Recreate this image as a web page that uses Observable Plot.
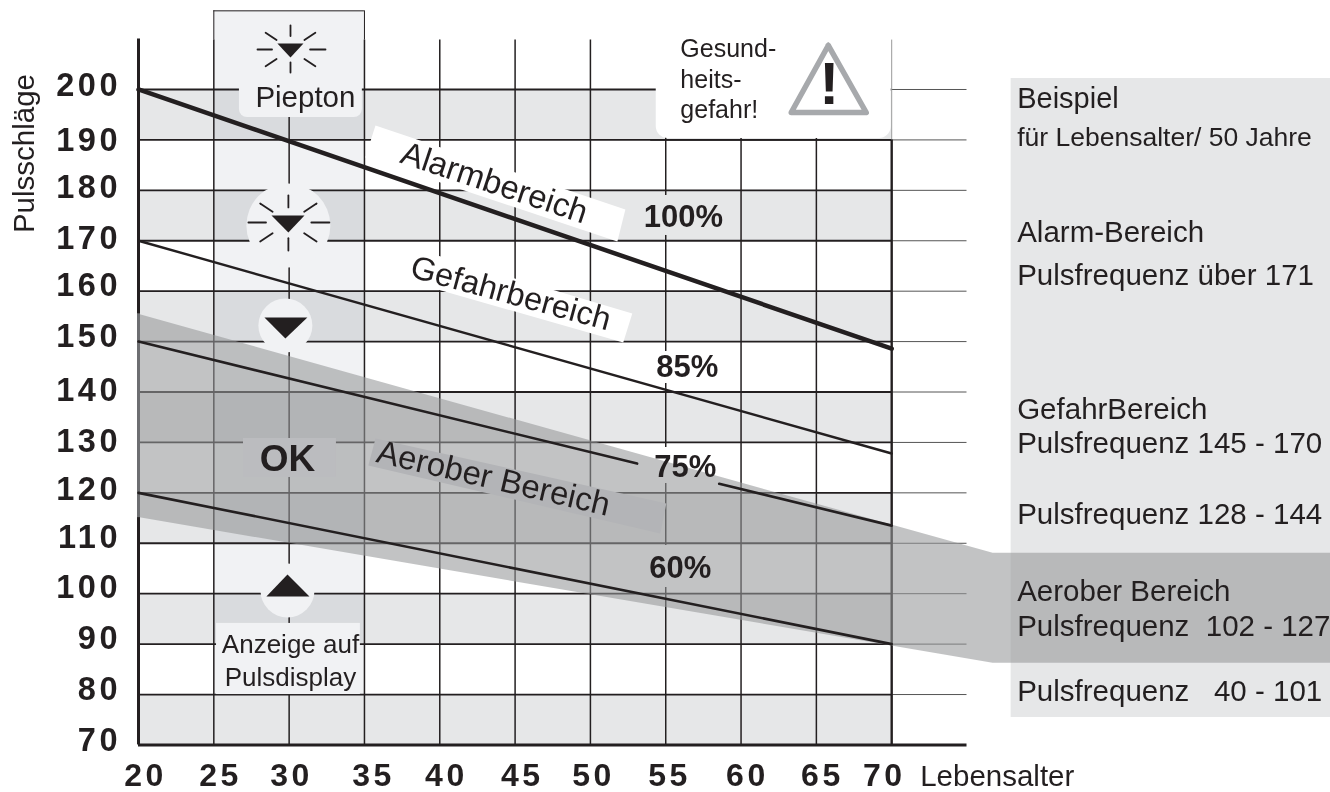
<!DOCTYPE html>
<html><head><meta charset="utf-8">
<script src="https://cdn.jsdelivr.net/npm/d3@7"></script>
<script src="https://cdn.jsdelivr.net/npm/@observablehq/plot@0.6"></script>
<style>html,body{margin:0;padding:0;background:#fff}svg{display:block;background:#fff}</style>
</head><body><div id="chart"></div>
<script>
const INK = "#231f20", FONT = "Liberation Sans";
// axes
const xTicks = [20,25,30,35,40,45,50,55,60,65,70];
const xLabelAge = [20.47,25.44,30.16,35.6,40.44,45.48,50.2,55.25,60.42,65.4,69.51];
const yTicks = [200,190,180,170,160,150,140,130,120,110,100,90,80,70];
const yLabelPulse = [200.69,189.89,180.46,170.45,161.03,150.91,140.3,130.19,120.67,111.15,101.23,91.11,80.99,70.89];
const bandFloors = [190,170,150,130,110,90,70];
// heart-rate lines (age, pulse)
const lineAges = [20,70];
const pulse100 = [200,148.6];
const pulse85 = [170,127.8];
const pulse60 = [120,90];
const pulse75a = [[20,150],[53.1,125.8]];
const pulse75b = [[58.55,121.8],[70,113.5]];
// aerobic wedge
const wedgeAges = [20,76.73,99.13];
const wedgeTop = [155.4,108,108];
const wedgeBottom = [115.1,86.2,86.2];
// 55-line runs, leaving room for the percent labels
const run55 = [[209.8,178.98],[171.05,148.04],[141.69,129],[121.86,109.56],[101.23,70]];
// boxes: age1, age2, pulse1, pulse2
const displayColumn = [[25,35,80,215.6]];
const sidePanel = [[77.93,99.13,75.45,202.18]];
const piepBox = [[26.7,34.86,194.45,215]];
const anzeigeBox = [[25.18,34.73,80,94.1]];
const warnBox = [[54.37,69.97,190.28,214]];
const okBox = [[26.97,33.14,123.05,130.78]];
// discs behind the display icons (age, pulse)
const bigDisc = [[29.95,173.03]];
const smallDiscs = [[29.75,153.19],[29.89,100.64]];
// slanted label strips
const alarmStrip = [[35.73,192.86],[52.32,176.2],[51.79,169.85],[35.06,186.51]];
const gefahrStrip = [[37.39,169.26],[52.78,155.57],[52.18,149.82],[36.85,162.91]];
const aerobStrip = [[35.73,130.78],[55.04,117.89],[54.64,111.94],[35.26,125.43]];
// icons
const iconTriangles = [
  [[29.22,209.12],[30.95,209.12],[30.09,206.34]],
  [[28.83,175.01],[31.02,175.01],[29.95,171.64]],
  [[28.36,154.78],[31.21,154.78],[29.75,150.62]],
  [[28.49,99.45],[31.35,99.45],[29.89,103.81]]
];
const warnTriangle = [[65.79,208.73],[68.31,195.44],[63.33,195.44],[65.79,208.73]];
const rayAngles = [0,56,90,124,180,236,270,304];
const rays1 = [24,30,35,30,23,30,33,30];
const rays2 = [27,34,41,34,28,34,40,34];
const rayCentre1 = [30.09,207.93], rayCentre2 = [29.95,173.62];
// texts: label, age, pulse, size
const panelTexts = [
  ["Beispiel",78.33,198.2,29],
  ["für Lebensalter/ 50 Jahre",78.33,190.5,26.5],
  ["Alarm-Bereich",78.33,171.6,29.5],
  ["Pulsfrequenz über 171",78.33,163.1,29.5],
  ["GefahrBereich",78.33,136.5,29.5],
  ["Pulsfrequenz 145 - 170",78.33,129.8,29.5],
  ["Pulsfrequenz 128 - 144",78.33,115.7,29.5],
  ["Aerober Bereich",78.33,100.4,29.5],
  ["Pulsfrequenz  102 - 127",78.33,93.5,29.5],
  ["Pulsfrequenz   40 - 101",78.33,80.6,29.5]
];
const percentTexts = [["100%",56.17,174.6],["85%",56.43,144.86],["75%",56.3,125.03],["60%",55.97,105]];
const warnTexts = [["Gesund-",55.97,208.13],["heits-",55.97,201.98],["gefahr!",55.97,196.03]];
const anzeigeTexts = [["Anzeige auf",30.09,89.93],["Pulsdisplay",30.09,83.39]];

const box = (rows, o) => Plot.rect(rows, {x1:d=>d[0], x2:d=>d[1], y1:d=>d[2], y2:d=>d[3], ...o});
const poly = (pts, o) => Plot.line(pts, {x:d=>d[0], y:d=>d[1], ...o});
const spaced = px => (index, scales, values, dims, ctx, next) => {
  const g = next(index, scales, values, dims, ctx);
  g.style.whiteSpace = "pre";
  g.querySelectorAll("text").forEach(t => { t.style.letterSpacing = px + "px"; });
  return g;
};
const label = (rows, o) => Plot.text(rows, {text:d=>d[0], x:d=>d[1], y:d=>d[2], fill:INK, fontFamily:FONT, ...o});
const rayShape = {draw(c,l){c.moveTo(0,-l*0.56); c.lineTo(0,-l);}};
const raysAt = (centre, lens) => Plot.vector(rayAngles, {x:()=>centre[0], y:()=>centre[1], rotate:d=>d,
  length:(d,i)=>lens[i], anchor:"start", shape:rayShape, stroke:INK, strokeWidth:1.8});

const chart = Plot.plot({
  width:1330, height:792, margin:0,
  x:{domain:[20,99.13], range:[138,1330], axis:null},
  y:{domain:[60.57,217.65], range:[792,0], axis:null},
  length:{type:"identity"},
  marks:[
    Plot.rect(bandFloors, {x1:()=>20, x2:()=>70, y1:d=>d, y2:d=>d+10, fill:"#e6e7e8"}),
    box(sidePanel, {fill:"#e6e7e8"}),
    box(displayColumn, {fill:"#f1f2f4", mixBlendMode:"multiply"}),
    // grid
    Plot.ruleY(yTicks, {x1:()=>20, x2:()=>70, stroke:INK, strokeWidth:1.8}),
    Plot.ruleY(yTicks.filter(d=>d>70), {x1:()=>70, x2:()=>75, stroke:"#555", strokeWidth:1}),
    Plot.ruleX([25,30,35,40,45,50,60,65], {y1:()=>209.8, y2:()=>70, stroke:INK, strokeWidth:1.5}),
    Plot.ruleX(run55, {x:()=>55, y1:d=>d[0], y2:d=>d[1], stroke:INK, strokeWidth:1.5}),
    Plot.ruleX([70], {y1:()=>209.8, y2:()=>190, stroke:"#999", strokeWidth:1}),
    // display column outline
    Plot.ruleX([25,35], {y1:()=>209.8, y2:()=>215.6, stroke:INK, strokeWidth:1}),
    Plot.ruleY([215.6], {x1:()=>25, x2:()=>35, stroke:INK, strokeWidth:1}),
    // patches
    box(warnBox, {fill:"white", rx:12}),
    Plot.ruleX([70], {y1:()=>190, y2:()=>70, stroke:INK, strokeWidth:2.4}),
    Plot.ruleY([190], {x1:()=>54, x2:()=>70, stroke:INK, strokeWidth:1.8}),
    box(piepBox, {fill:"#f1f2f4", rx:8}),
    box(anzeigeBox, {fill:"#f1f2f4"}),
    Plot.dot(bigDisc, {x:d=>d[0], y:d=>d[1], r:42, fill:"#f1f2f4"}),
    Plot.dot(smallDiscs, {x:d=>d[0], y:d=>d[1], r:27, fill:"#f1f2f4"}),
    poly(alarmStrip, {fill:"white", stroke:"none"}),
    poly(gefahrStrip, {fill:"white", stroke:"none"}),
    // aerobic wedge
    Plot.areaY(wedgeAges.map((a,i)=>[a,wedgeBottom[i],wedgeTop[i]]), {x:d=>d[0], y1:d=>d[1], y2:d=>d[2], fill:"#96979a", fillOpacity:0.58}),
    poly(aerobStrip, {fill:"#b3b4b7", stroke:"none"}),
    box(okBox, {fill:"#bbbcbf"}),
    // axes lines
    Plot.ruleX([20], {y1:()=>210, y2:()=>155.4, stroke:INK, strokeWidth:3}),
    Plot.ruleX([20], {y1:()=>155.4, y2:()=>115.1, stroke:"#6d6e71", strokeWidth:3}),
    Plot.ruleX([20], {y1:()=>115.1, y2:()=>70, stroke:INK, strokeWidth:3}),
    Plot.ruleY([70], {x1:()=>20, x2:()=>75, stroke:INK, strokeWidth:3}),
    // heart-rate lines
    Plot.line(lineAges.map((a,i)=>[a,pulse100[i]]), {x:d=>d[0], y:d=>d[1], stroke:INK, strokeWidth:4.5}),
    Plot.line(lineAges.map((a,i)=>[a,pulse85[i]]), {x:d=>d[0], y:d=>d[1], stroke:INK, strokeWidth:2.4}),
    poly(pulse75a, {stroke:INK, strokeWidth:2.6}),
    poly(pulse75b, {stroke:INK, strokeWidth:2.6}),
    Plot.line(lineAges.map((a,i)=>[a,pulse60[i]]), {x:d=>d[0], y:d=>d[1], stroke:INK, strokeWidth:2.6}),
    // icons
    ...iconTriangles.map(t => poly(t, {fill:INK, stroke:"none"})),
    raysAt(rayCentre1, rays1),
    raysAt(rayCentre2, rays2),
    poly(warnTriangle, {stroke:"#a7a9ac", strokeWidth:5.5, strokeLinejoin:"round"}),
    label([["!",65.85,201]], {fontSize:60, fontWeight:700}),
    // tick labels
    Plot.text(xTicks, {text:d=>String(d), x:(d,i)=>xLabelAge[i], y:()=>63.95, fontFamily:FONT, fontWeight:700, fontSize:32, fill:INK, render:spaced(3.5)}),
    Plot.text(yTicks, {text:d=>String(d), x:()=>18.84, y:(d,i)=>yLabelPulse[i], textAnchor:"end", fontFamily:FONT, fontWeight:700, fontSize:32.5, fill:INK, render:spaced(3.5)}),
    label([["Pulsschläge",12.44,187.3]], {rotate:-90, fontSize:29.5}),
    label([["Lebensalter",71.89,63.83]], {textAnchor:"start", fontSize:29.5}),
    // chart labels
    label([["Alarmbereich",43.62,181.46]], {rotate:18.4, fontSize:33}),
    label([["Gefahrbereich",44.71,159.54]], {rotate:15.2, fontSize:32.5}),
    label([["Aerober Bereich",43.56,122.85]], {rotate:13.1, fontSize:33}),
    label(percentTexts, {fontSize:31, fontWeight:700}),
    label([["OK",29.89,126.62]], {fontSize:37, fontWeight:700}),
    label([["Piepton",31.08,198.41]], {fontSize:29.5}),
    label(anzeigeTexts, {fontSize:26}),
    label(warnTexts, {textAnchor:"start", fontSize:25}),
    label(panelTexts, {textAnchor:"start", fontSize:d=>d[3], render:spaced(0)})
  ]
});
document.getElementById("chart").append(chart);
</script>
</body></html>
